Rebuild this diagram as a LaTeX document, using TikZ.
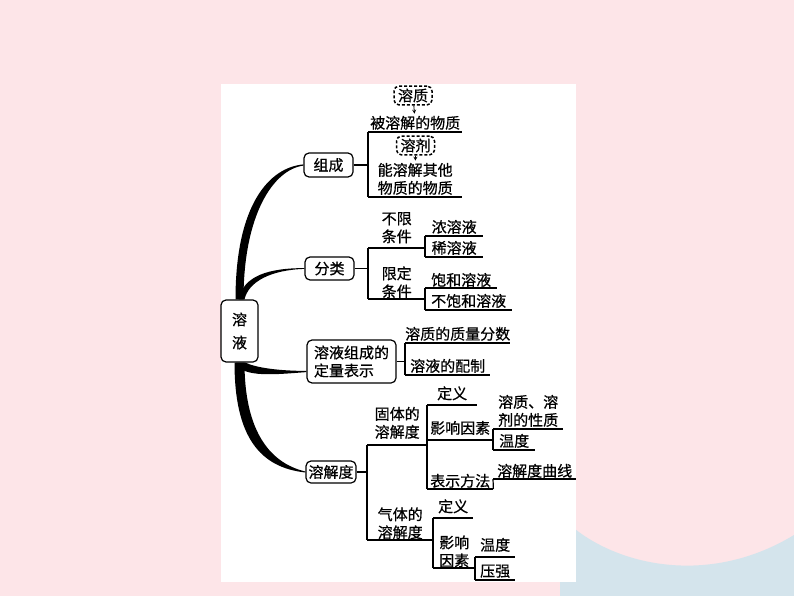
\documentclass[tikz,border=0pt]{standalone}
\usepackage{fontspec}
\newfontfamily\cjk[FakeBold=0.6]{Noto Sans CJK SC}
\usetikzlibrary{positioning,backgrounds}
\definecolor{bgpink}{RGB}{253,229,232}
\definecolor{bgblue}{RGB}{212,228,236}
\tikzset{box/.style={draw,rounded corners=5pt,line width=1.2pt,inner sep=2pt,align=center,fill=white}}
\tikzset{leaf/.style={anchor=south west,inner xsep=0pt,inner ysep=2pt,align=center}}
\tikzset{bubble/.style={draw,dash pattern=on 3pt off 2pt,rounded corners=5pt,line width=1.5pt,inner xsep=4pt,inner ysep=2.5pt}}
\tikzset{bracket/.style={line width=1.2pt}}

\begin{document}
\begin{tikzpicture}[x=1pt, y=-1pt, font=\cjk\fontsize{15}{18}\selectfont]

% Sfondo
\begin{scope}[on background layer]
\fill[bgpink] (0,0) rectangle (794,596);
\fill[bgblue] (560,515) .. controls (600,560) and (700,592) .. (794,535) -- (794,596) -- (560,596) -- cycle;
\fill[white] (221,84) rectangle (576,582);
\end{scope}
\useasboundingbox (0,0) rectangle (794,596);

% Blocchi
\node [box, minimum width=37pt, minimum height=62pt, font=\cjk\fontsize{15}{23}\selectfont] (Rongye) at (239.5,331) {溶\\液};
\node [box, minimum width=49pt, minimum height=24pt] (Zucheng) at (328.5,165) {组成};
\node [box, minimum width=49pt, minimum height=23pt] (Fenlei) at (329.5,268.5) {分类};
\node [box, minimum width=89pt, minimum height=43pt, align=left] (Dingliang) at (351.5,361.5) {溶液组成的\\定量表示};
\node [box, minimum width=50pt, minimum height=22pt] (Rongjiedu) at (331,472) {溶解度};

% Foglie
\node [leaf, minimum width=94pt] (Beirongjie) at (368,132) {被溶解的物质};
\node [leaf, minimum width=94pt] (Nengrongjie) at (368,197) {能溶解其他\\物质的物质};
\node [leaf, minimum width=57pt, inner ysep=4.5pt] (Buxian) at (368,248) {不限\\条件};
\node [leaf, minimum width=58pt] (Nongrongye) at (425,236) {浓溶液};
\node [leaf, minimum width=58pt] (Xirongye) at (425,257) {稀溶液};
\node [leaf, minimum width=57pt, inner ysep=0.5pt] (Xianding) at (368,299) {限定\\条件};
\node [leaf, minimum width=72pt, inner ysep=1pt] (Baohe) at (425,288) {饱和溶液};
\node [leaf, minimum width=87pt] (Bubaohe) at (425,310) {不饱和溶液};
\node [leaf, minimum width=102pt] (Zhiliang) at (405,343) {溶质的质量分数};
\node [leaf, minimum width=85pt] (Peizhi) at (405,375) {溶液的配制};
\node [leaf, minimum width=60pt, inner ysep=6pt] (Guti) at (367,445) {固体的\\溶解度};
\node [leaf, minimum width=50pt, inner ysep=4.5pt] (GutiDingyi) at (427,405) {定义};
\node [leaf, minimum width=66pt, inner ysep=5pt] (GutiYinsu) at (427,440) {影响因素};
\node [leaf, minimum width=70pt] (Xingzhi) at (493,429) {溶质、溶\\剂的性质};
\node [leaf, minimum width=42pt] (GutiWendu) at (493,450) {温度};
\node [leaf, minimum width=66pt, inner ysep=1pt] (Biaoshi) at (427,489) {表示方法};
\node [leaf, minimum width=83pt, inner ysep=1pt] (Quxian) at (493,479) {溶解度曲线};
\node [leaf, minimum width=66pt, inner ysep=0.5pt] (Qiti) at (367,540) {气体的\\溶解度};
\node [leaf, minimum width=40pt, inner ysep=4.5pt] (QitiDingyi) at (433,518) {定义};
\node [leaf, minimum width=42pt, inner ysep=0.5pt] (QitiYinsu) at (433,568) {影响\\因素};
\node [leaf, minimum width=40pt, inner ysep=5pt] (QitiWendu) at (475,557) {温度};
\node [leaf, minimum width=40pt] (Yaqiang) at (475,580) {压强};

% Nuvolette
\node [bubble] (Rongzhi) at (413,95.5) {溶质};
\node [bubble] (Rongji) at (415.5,145.5) {溶剂};

%Collegamenti
\draw[-stealth, thick] (Rongzhi) -- (Beirongjie);
\draw[-stealth, thick] (Rongji) -- (Nengrongjie);
\foreach \n in {Beirongjie,Nengrongjie,Buxian,Nongrongye,Xirongye,Xianding,Baohe,Bubaohe,Zhiliang,Peizhi,Guti,GutiDingyi,GutiYinsu,Xingzhi,GutiWendu,Biaoshi,Quxian,Qiti,QitiDingyi,QitiYinsu,QitiWendu,Yaqiang}
  \draw[bracket] (\n.south west) -- (\n.south east);
\draw[bracket] (Zucheng.east) -- (Zucheng.east -| Beirongjie.south west);
\draw[bracket] (Beirongjie.south west) -- (Nengrongjie.south west);
\draw[bracket] (Fenlei.east) -- (Fenlei.east -| Buxian.south west);
\draw[bracket] (Buxian.south west) -- (Xianding.south west);
\draw[bracket] (Nongrongye.south west) -- (Xirongye.south west);
\draw[bracket] (Baohe.south west) -- (Bubaohe.south west);
\draw[bracket] (Dingliang.east) -- (Dingliang.east -| Zhiliang.south west);
\draw[bracket] (Zhiliang.south west) -- (Peizhi.south west);
\draw[bracket] (Rongjiedu.east) -- (Rongjiedu.east -| Guti.south west);
\draw[bracket] (Guti.south west) -- (Qiti.south west);
\draw[bracket] (GutiDingyi.south west) -- (Biaoshi.south west);
\draw[bracket] (Xingzhi.south west) -- (GutiWendu.south west);
\draw[bracket] (Quxian.south west) -- (Biaoshi.south east);
\draw[bracket] (QitiDingyi.south west) -- (QitiYinsu.south west);
\draw[bracket] (QitiWendu.south west) -- (Yaqiang.south west);

% Rami
\begin{scope}[on background layer]
\fill ([xshift=-4pt]Rongye.north) .. controls +(0,-95) and +(-34,3) .. ([yshift=0.6pt]Zucheng.west)
  -- ([yshift=-0.6pt]Zucheng.west) .. controls +(-30,4) and +(0,-85) .. ([xshift=4pt]Rongye.north) -- cycle;
\fill ([xshift=-1pt]Rongye.north) .. controls +(5,-24) and +(-35,0) .. ([yshift=0.4pt]Fenlei.west)
  -- ([yshift=-0.4pt]Fenlei.west) .. controls +(-33,1) and +(4,-18) .. ([xshift=5pt]Rongye.north) -- cycle;
\fill ([xshift=-4pt]Rongye.south) .. controls +(6,16) and +(-28,2) .. ([yshift=-10.6pt]Dingliang.west)
  -- ([yshift=-9.4pt]Dingliang.west) .. controls +(-28,0) and +(10,5) .. ([xshift=6pt]Rongye.south) -- cycle;
\fill ([xshift=-5pt]Rongye.south) .. controls +(0,75) and +(-45,-5) .. ([yshift=-0.5pt]Rongjiedu.west)
  -- ([yshift=0.5pt]Rongjiedu.west) .. controls +(-38,-9) and +(0,65) .. ([xshift=5pt]Rongye.south) -- cycle;
\end{scope}

\end{tikzpicture}
\end{document}
